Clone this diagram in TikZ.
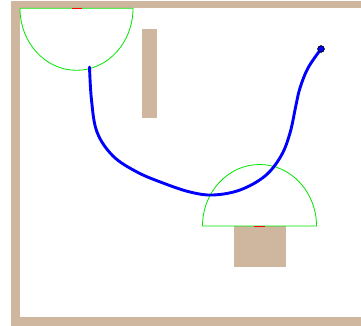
\documentclass[tikz,border=0pt]{standalone}
\begin{document}
\begin{tikzpicture}[x=1pt,y=-1pt,
  wall/.style={fill=walltan,draw=none},
  fov/.style={draw=green!90!black,line width=0.8pt},
  heading/.style={draw=red,line width=1pt},
  trajectory/.style={draw=blue,line width=2.9pt,line cap=round},
  goal/.style={circle,fill=blue,draw=black,line width=0.6pt,inner sep=0pt,minimum size=6.5pt}]
\definecolor{walltan}{RGB}{206,183,158}
\fill[white] (0,0) rectangle (361,326);
\useasboundingbox (0,0) rectangle (361,326);
% walls
\fill[wall] (11,1) rectangle (361,8.3);
\fill[wall] (11,1) rectangle (20,326);
\fill[wall] (11,317) rectangle (361,326);
\fill[wall] (142,29) rectangle (157,118);
\fill[wall] (234,226) rectangle (286,267);
% fields of view
\draw[fov] (20,8.3) -- (133,8.3) arc[start angle=0,end angle=180,x radius=56.5,y radius=62];
\draw[heading] (72,8.3) -- (82,8.3);
\draw[fov] (202.5,226) -- (316.5,226) arc[start angle=360,end angle=180,x radius=57,y radius=61.5];
\draw[heading] (254,226) -- (265,226);
% trajectory
\coordinate (start) at (89.5,67);
\node[goal] (end) at (321,49) {};
\draw[trajectory] plot[smooth,tension=0.6] coordinates {(89.5,67) (91.5,100) (97,132) (113,156) (137,172) (163,183) (190,192) (213,195) (240,190) (265,176) (281,156) (290,133) (296,105) (300,88) (308,68) (321,49)};
\node[goal] at (end) {};
\end{tikzpicture}
\end{document}
